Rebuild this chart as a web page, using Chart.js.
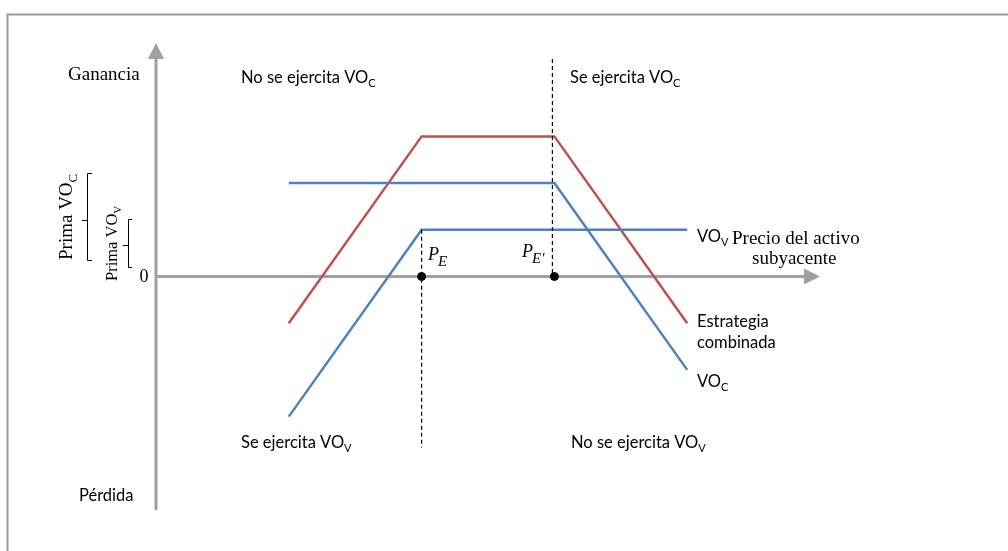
<!DOCTYPE html>
<html>
<head>
<meta charset="utf-8">
<script src="https://cdn.jsdelivr.net/npm/chart.js@4"></script>
<style>
  html, body { margin: 0; padding: 0; background: #fff; }
  #wrap { width: 1008px; height: 551px; position: relative; }
</style>
</head>
<body>
<div id="wrap"><canvas id="myChart"></canvas></div>
<script>
// precio del activo (x) y resultado (y)
const precioCombinada = [20, 40, 60, 80];
const resultadoCombinada = [-5, 15, 15, -5];
const precioVOc = [20, 60, 80];
const resultadoVOc = [10, 10, -10];
const precioVOv = [20, 40, 80];
const resultadoVOv = [-15, 5, 5];
const precioEjercicio = [40, 60];   // P_E, P_E'
const guiaPE = [5, -18.3];
const guiaPE2 = [23.3, -0.4];

const RED = '#C0504D';
const BLUE = '#4F81BD';
const SANS = 'Lato, "Open Sans", sans-serif';
const SERIF = '"Liberation Serif", "DejaVu Serif", serif';

function pts(xs, ys) {
    return xs.map((x, i) => ({ x: x, y: ys[i] }));
}

function textSub(ctx, main, sub, x, y, size, font) {
    ctx.font = size + 'px ' + font;
    ctx.fillText(main, x, y);
    const w = ctx.measureText(main).width;
    ctx.font = Math.round(size * 0.68) + 'px ' + font;
    ctx.fillText(sub, x + w, y + size * 0.25);
}

const decor = {
    id: 'decor',
    beforeDraw(chart) {
        const ctx = chart.ctx;
        ctx.save();
        ctx.strokeStyle = '#9a9a9a';
        ctx.lineWidth = 2;
        ctx.beginPath();
        ctx.moveTo(1008, 14.5);
        ctx.lineTo(7.5, 14.5);
        ctx.lineTo(7.5, 551);
        ctx.stroke();
        ctx.restore();
    },
    beforeDatasetsDraw(chart) {
        const ctx = chart.ctx;
        const xs = chart.scales.x, ys = chart.scales.y;
        const x0 = xs.getPixelForValue(0), y0 = ys.getPixelForValue(0);
        const a = chart.chartArea;
        ctx.save();
        ctx.strokeStyle = '#a0a0a0';
        ctx.fillStyle = '#a0a0a0';
        ctx.lineWidth = 3;
        // eje vertical
        ctx.beginPath();
        ctx.moveTo(x0, a.bottom);
        ctx.lineTo(x0, a.top + 12);
        ctx.stroke();
        ctx.beginPath();
        ctx.moveTo(x0, a.top);
        ctx.lineTo(x0 - 8, a.top + 16);
        ctx.lineTo(x0 + 8, a.top + 16);
        ctx.closePath();
        ctx.fill();
        // eje horizontal
        ctx.beginPath();
        ctx.moveTo(x0, y0);
        ctx.lineTo(a.right - 12, y0);
        ctx.stroke();
        ctx.beginPath();
        ctx.moveTo(a.right, y0);
        ctx.lineTo(a.right - 16, y0 - 8);
        ctx.lineTo(a.right - 16, y0 + 8);
        ctx.closePath();
        ctx.fill();
        ctx.restore();
    },
    afterDraw(chart) {
        const ctx = chart.ctx;
        ctx.save();
        ctx.fillStyle = '#000';
        ctx.textBaseline = 'alphabetic';
        ctx.textAlign = 'left';

        ctx.font = '19px ' + SERIF;
        ctx.fillText('Ganancia', 68, 80);
        ctx.textAlign = 'center';
        ctx.font = '18px ' + SERIF;
        ctx.fillText('0', 144, 282);
        ctx.textAlign = 'left';

        textSub(ctx, 'No se ejercita VO', 'C', 241, 83, 16.5, SANS);
        textSub(ctx, 'Se ejercita VO', 'C', 570, 83, 16.5, SANS);
        textSub(ctx, 'Se ejercita VO', 'V', 241, 448, 16.5, SANS);
        textSub(ctx, 'No se ejercita VO', 'V', 571, 448, 16.5, SANS);
        ctx.font = '16.5px ' + SANS;
        ctx.fillText('Pérdida', 79, 501);

        textSub(ctx, 'VO', 'V', 697, 242, 16.5, SANS);
        ctx.font = '19px ' + SERIF;
        ctx.fillText('Precio del activo', 732, 244);
        ctx.fillText('subyacente', 752, 264);
        ctx.font = '16.5px ' + SANS;
        ctx.fillText('Estrategia', 697, 327);
        ctx.fillText('combinada', 697, 348);
        textSub(ctx, 'VO', 'C', 697, 387, 16.5, SANS);

        // P_E y P_E'
        ctx.font = 'italic 18px ' + SERIF;
        ctx.fillText('P', 428, 260);
        ctx.font = 'italic 15px ' + SERIF;
        ctx.fillText('E', 438, 266);
        ctx.font = 'italic 18px ' + SERIF;
        ctx.fillText('P', 522, 257);
        ctx.font = 'italic 15px ' + SERIF;
        ctx.fillText("E'", 532, 263);

        // primas (texto girado)
        ctx.save();
        ctx.translate(72, 215);
        ctx.rotate(-Math.PI / 2);
        textSub(ctx, 'Prima VO', 'C', -45, 0, 19, SERIF);
        ctx.restore();
        ctx.save();
        ctx.translate(117, 243);
        ctx.rotate(-Math.PI / 2);
        textSub(ctx, 'Prima VO', 'V', -38, 0, 16.5, SERIF);
        ctx.restore();

        // llaves
        ctx.strokeStyle = '#000';
        ctx.lineWidth = 1;
        ctx.beginPath();
        ctx.moveTo(92, 173.5); ctx.lineTo(87.5, 173.5); ctx.lineTo(87.5, 260.5); ctx.lineTo(92, 260.5);
        ctx.moveTo(87.5, 220.5); ctx.lineTo(82, 220.5);
        ctx.moveTo(132, 219.5); ctx.lineTo(128.5, 219.5); ctx.lineTo(128.5, 267.5); ctx.lineTo(132, 267.5);
        ctx.moveTo(128.5, 245.5); ctx.lineTo(123, 245.5);
        ctx.stroke();
        ctx.restore();
    }
};

const ctx = document.getElementById('myChart').getContext('2d');
new Chart(ctx, {
    type: 'scatter',
    data: {
        datasets: [
            {
                label: 'guía PE',
                data: pts([precioEjercicio[0], precioEjercicio[0]], guiaPE),
                showLine: true,
                borderColor: '#000',
                borderWidth: 1.2,
                borderDash: [4, 3],
                pointRadius: 0,
            },
            {
                label: "guía PE'",
                data: pts([precioEjercicio[1] - 0.3, precioEjercicio[1] - 0.3], guiaPE2),
                showLine: true,
                borderColor: '#000',
                borderWidth: 1.2,
                borderDash: [4, 3],
                pointRadius: 0,
            },
            {
                label: 'VOv',
                data: pts(precioVOv, resultadoVOv),
                showLine: true,
                borderColor: BLUE,
                borderWidth: 2.5,
                pointRadius: 0,
            },
            {
                label: 'VOc',
                data: pts(precioVOc, resultadoVOc),
                showLine: true,
                borderColor: BLUE,
                borderWidth: 2.5,
                pointRadius: 0,
            },
            {
                label: 'Estrategia combinada',
                data: pts(precioCombinada, resultadoCombinada),
                showLine: true,
                borderColor: RED,
                borderWidth: 2.5,
                pointRadius: 0,
            },
            {
                label: 'Precios de ejercicio',
                data: pts(precioEjercicio, [0, 0]),
                pointRadius: 4,
                pointBackgroundColor: '#000',
                pointBorderColor: '#000',
            },
        ],
    },
    options: {
        responsive: true,
        maintainAspectRatio: false,
        animation: false,
        layout: { padding: { left: 156, right: 188, top: 43, bottom: 41 } },
        scales: {
            x: { type: 'linear', min: 0, max: 100, display: false },
            y: { type: 'linear', min: -25, max: 25, display: false },
        },
        plugins: {
            legend: { display: false },
            tooltip: { enabled: false },
        },
        elements: { line: { tension: 0 } },
    },
    plugins: [decor],
});
</script>
</body>
</html>
